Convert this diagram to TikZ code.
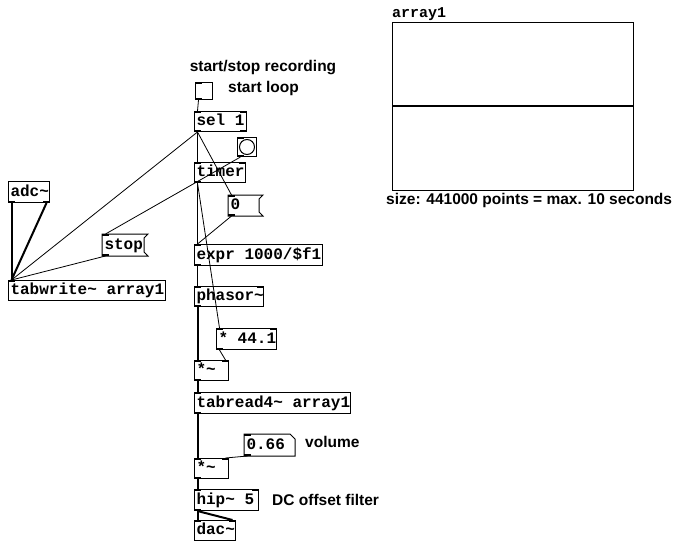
\documentclass[tikz,border=0pt]{standalone}
\usepackage{fontspec}
\newfontfamily\pdmono{Liberation Mono}
\newfontfamily\pdsans{Liberation Sans}
\usetikzlibrary{calc}
\newcommand{\lbox}[2]{\makebox[#1][l]{#2}}
\begin{document}
\begin{tikzpicture}[x=1pt,y=-1pt,
  obj/.style={draw, line width=1pt, anchor=north west, inner xsep=2pt, inner ysep=0pt,
    font=\pdmono\bfseries\fontsize{16}{18}\selectfont, text height=11pt, text depth=3pt},
  bare/.style={obj, draw=none},
  gui/.style={draw, line width=1pt, anchor=north west, inner sep=0pt},
  msgline/.style={line width=1pt},
  cmt/.style={font=\pdsans\bfseries\fontsize{15.5}{17}\selectfont, inner sep=0pt},
  ctl/.style={line width=0.8pt},
  sig/.style={line width=2pt},
  iolet/.style={fill=black},
]
\useasboundingbox[fill=white] (0,0) rectangle (679,548);

% comments
\node[cmt] (c1) at (263,68) {start/stop recording};
\node[cmt, anchor=west] (c2) at (228,88) {start loop};
\node[cmt, anchor=west] (c3) at (305,442) {volume};
\node[cmt, anchor=west] (c4) at (272,500) {DC offset filter};
\node[cmt, anchor=west] (c5) at (386,200) {size: 441000 points = max. 10 seconds};

% gui objects
\node[gui, minimum size=17pt] (tog) at (195,82) {};
\node[gui, minimum size=19pt] (bng) at (237,137) {};
\node[draw, circle, line width=1pt, minimum size=15pt, inner sep=0pt] (bngc) at (bng.center) {};

% objects
\node[obj, minimum height=20pt] (sel) at (194,111) {\lbox{48pt}{sel 1}};
\node[obj, minimum height=20pt] (timer) at (194,162) {\lbox{47pt}{timer}};
\node[obj, minimum height=21pt] (expr) at (194,244) {\lbox{124pt}{expr 1000/\$f1}};
\node[obj, minimum height=20pt] (phasor) at (194,286) {\lbox{65pt}{phasor\textasciitilde}};
\node[obj, minimum height=21pt] (mula) at (216,328) {\lbox{56pt}{* 44.1}};
\node[obj, minimum height=20pt] (mulb) at (194,360) {\lbox{30pt}{*\textasciitilde}};
\node[obj, minimum height=21pt] (tabread) at (194,392) {\lbox{152pt}{tabread4\textasciitilde{} array1}};
\node[obj, minimum height=20pt] (mulc) at (194,458) {\lbox{30pt}{*\textasciitilde}};
\node[obj, minimum height=21pt] (hip) at (194,489) {\lbox{60pt}{hip\textasciitilde{} 5}};
\node[obj, minimum height=20pt] (dac) at (194,520) {\lbox{37pt}{dac\textasciitilde}};
\node[obj, minimum height=21pt] (adc) at (8,181) {\lbox{37pt}{adc\textasciitilde}};
\node[obj, minimum height=20pt] (tabwrite) at (8,280) {\lbox{153pt}{tabwrite\textasciitilde{} array1}};

% message boxes
\node[bare, minimum height=20pt] (zero) at (228,195) {\lbox{26pt}{0}};
\draw[msgline] (zero.north west) -- ($(zero.north east)+(4,0)$) -- ($(zero.north east)+(0,4)$)
  -- ($(zero.south east)+(0,-4)$) -- ($(zero.south east)+(4,0)$) -- (zero.south west) -- cycle;
\node[bare, minimum height=21pt] (stop) at (102,234) {\lbox{37pt}{stop}};
\draw[msgline] (stop.north west) -- ($(stop.north east)+(4,0)$) -- ($(stop.north east)+(0,4)$)
  -- ($(stop.south east)+(0,-4)$) -- ($(stop.south east)+(4,0)$) -- (stop.south west) -- cycle;

% number box
\node[bare, minimum height=21pt] (vol) at (244,434) {\lbox{46pt}{0.66}};
\draw[msgline] (vol.north west) -- ($(vol.north east)+(-5,0)$) -- ($(vol.north east)+(0,5)$)
  -- (vol.south east) -- (vol.south west) -- cycle;

% array
\node[gui, minimum width=241pt, minimum height=168pt] (arr) at (392,22) {};
\draw[line width=2pt] (arr.west) -- (arr.east);
\node[anchor=base west, inner sep=0pt, font=\pdmono\bfseries\fontsize{15}{17}\selectfont] (arrlabel) at (392,18) {array1};

% inlets / outlets
\foreach \n in {sel,timer,expr,phasor,mula,mulb,tabread,mulc,hip,dac,tabwrite,zero,stop,vol,tog,bng}
  {\fill[iolet] (\n.north west) rectangle ++(7,2);}
\foreach \n in {sel,timer,phasor,mula,mulb,mulc,hip,dac}
  {\fill[iolet] (\n.north east) rectangle ++(-7,2);}
\foreach \n in {sel,timer,expr,phasor,mula,mulb,tabread,mulc,hip,adc,zero,stop,vol,tog,bng}
  {\fill[iolet] (\n.south west) rectangle ++(7,-2);}
\foreach \n in {sel,adc}
  {\fill[iolet] (\n.south east) rectangle ++(-7,-2);}

% connection points
\foreach \n in {sel,timer,expr,phasor,mula,mulb,tabread,mulc,hip,dac,tabwrite,zero,stop,vol,tog,bng}
  {\coordinate (\n-i0) at ($(\n.north west)+(3.5,0)$);
   \coordinate (\n-o0) at ($(\n.south west)+(3.5,0)$);}
\foreach \n in {sel,timer,phasor,mula,mulb,mulc,hip,dac}
  {\coordinate (\n-i1) at ($(\n.north east)+(-3.5,0)$);}
\coordinate (adc-o0) at ($(adc.south west)+(3.5,0)$);
\coordinate (adc-o1) at ($(adc.south east)+(-3.5,0)$);

% control connections
\draw[ctl] (tog-o0) -- (sel-i0);
\draw[ctl] (sel-o0) -- (timer-i0);
\draw[ctl] (sel-o0) -- (zero-i0);
\draw[ctl] (sel-o0) -- (tabwrite-i0);
\draw[ctl] (bng-o0) -- (stop-i0);
\draw[ctl] (stop-o0) -- (tabwrite-i0);
\draw[ctl] (timer-o0) -- (expr-i0);
\draw[ctl] (timer-o0) -- (mula-i0);
\draw[ctl] (zero-o0) -- (expr-i0);
\draw[ctl] (expr-o0) -- (phasor-i0);
\draw[ctl] (mula-o0) -- (mulb-i1);
\draw[ctl] (vol-o0) -- (mulc-i1);

% signal connections
\draw[sig] (phasor-o0) -- (mulb-i0);
\draw[sig] (mulb-o0) -- (tabread-i0);
\draw[sig] (tabread-o0) -- (mulc-i0);
\draw[sig] (mulc-o0) -- (hip-i0);
\draw[sig] (hip-o0) -- (dac-i0);
\draw[sig] (hip-o0) -- (dac-i1);
\draw[sig] (adc-o0) -- (tabwrite-i0);
\draw[sig] (adc-o1) -- (tabwrite-i0);
\end{tikzpicture}
\end{document}
